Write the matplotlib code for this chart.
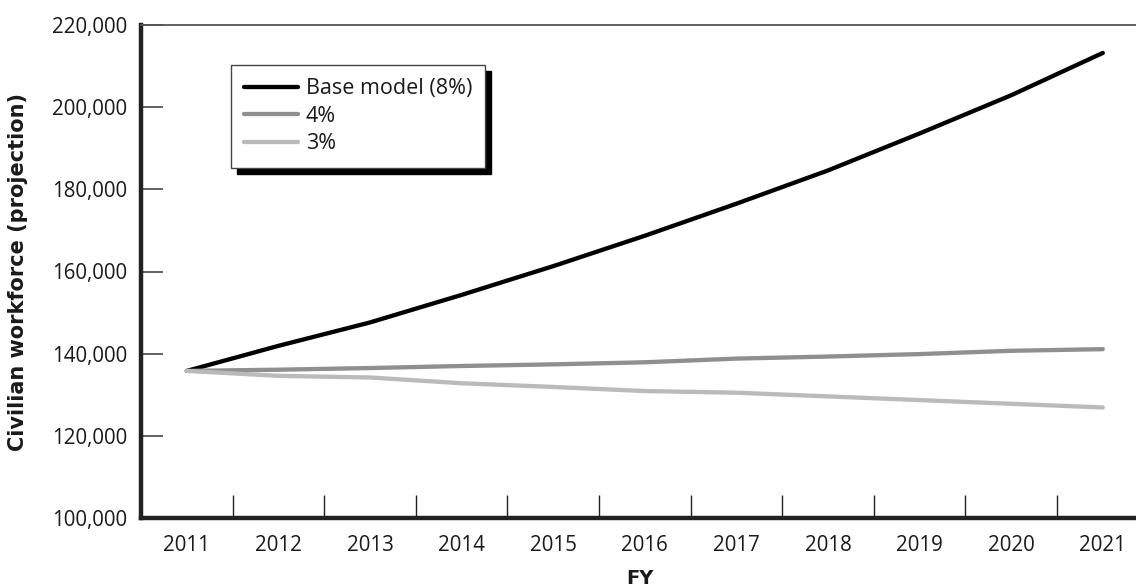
import matplotlib
matplotlib.use("Agg")
import matplotlib.pyplot as plt
from matplotlib.ticker import FuncFormatter, FixedLocator

years = ["2011", "2012", "2013", "2014", "2015", "2016", "2017", "2018", "2019", "2020", "2021"]
base_model = [135800, 141900, 147600, 154300, 161300, 168700, 176500, 184600, 193600, 202900, 213200]
growth_4 = [135800, 136100, 136500, 137000, 137400, 137900, 138800, 139300, 139900, 140700, 141100]
growth_3 = [135800, 134600, 134200, 132800, 131900, 130900, 130500, 129600, 128700, 127800, 126900]
series_labels = ["Base model (8%)", "4%", "3%"]
series_colors = ["#000000", "#8f8f8f", "#bababa"]
y_ticks = [100000, 120000, 140000, 160000, 180000, 200000, 220000]

plt.rcParams['font.family'] = ['Open Sans', 'DejaVu Sans']

W, H = 1136, 586
fig = plt.figure(figsize=(W / 100, H / 100), dpi=100)
left, right, bottom, top = 141, 1136, 518, 25
ax = fig.add_axes([left / W, 1 - bottom / H, (right - left) / W, (bottom - top) / H])

x = list(range(len(years)))
for vals, lab, col in zip([base_model, growth_4, growth_3], series_labels, series_colors):
    ax.plot(x, vals, color=col, lw=3.1, label=lab, solid_capstyle='round', solid_joinstyle='round')

# x range: band width ~91.6 px
xmax = (right - left) / 91.6 - 0.5
ax.set_xlim(-0.5, xmax)
ax.set_ylim(100000, 220000)

ax.yaxis.set_major_locator(FixedLocator(y_ticks))
ax.yaxis.set_major_formatter(FuncFormatter(lambda v, p: f"{int(v):,}"))
ax.tick_params(axis='y', direction='in', length=16, width=1.3, color='#555555',
               labelsize=14.8, pad=10, labelcolor='#1a1a1a')

ax.set_xticks(x)
ax.set_xticklabels(years)
ax.set_xticks([i + 0.5 for i in range(len(years) - 1)], minor=True)
ax.tick_params(axis='x', which='major', length=0, labelsize=14.8, pad=12, labelcolor='#1a1a1a')
ax.tick_params(axis='x', which='minor', direction='in', length=16.5, width=1.0, color='#222222')

for s in ['left', 'bottom']:
    ax.spines[s].set_linewidth(3.2)
    ax.spines[s].set_color('#222222')
ax.spines['top'].set_linewidth(1.3)
ax.spines['top'].set_color('#555555')
ax.spines['right'].set_visible(False)

leg = ax.legend(loc='upper left', bbox_to_anchor=(231 / W, 1 - 65 / H), bbox_transform=fig.transFigure,
                borderaxespad=0, fontsize=15.5, handlelength=2.5, handletextpad=0.35,
                labelspacing=0.3, borderpad=0.62, fancybox=False, framealpha=1,
                edgecolor='#444444', shadow={'ox': 4.3, 'oy': -4.3, 'color': 'black', 'alpha': 1})
leg.get_frame().set_linewidth(1.0)
for t in leg.get_texts():
    t.set_color('#1a1a1a')

fig.text(18 / W, 1 - 272 / H, "Civilian workforce (projection)", rotation=90, ha='center', va='center',
         fontsize=15, fontweight='bold', color='#1a1a1a', family=['DejaVu Sans'])
fig.text(640 / W, 1 - 578 / H, "FY", ha='center', va='center', fontsize=14, fontweight='bold', color='#1a1a1a',
         family=['DejaVu Sans'])

fig.savefig("out.png", dpi=100)
